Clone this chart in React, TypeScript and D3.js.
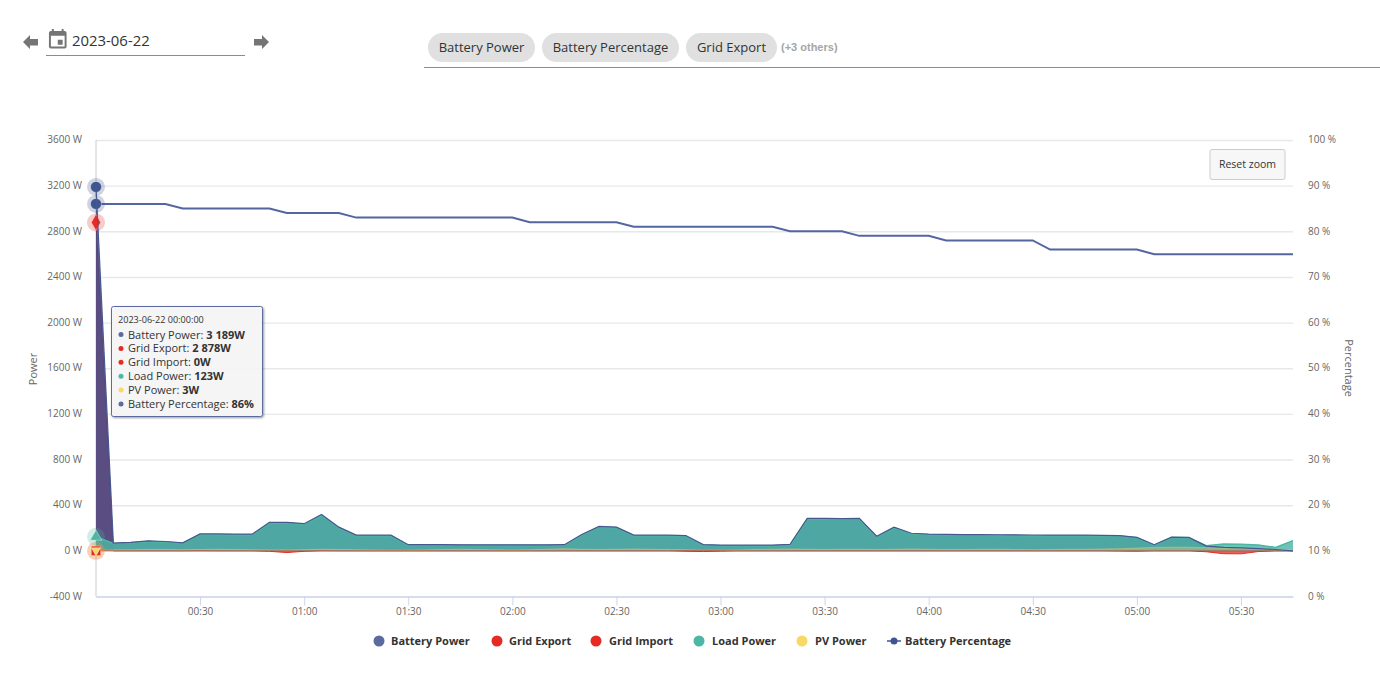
import React, { useRef, useEffect } from 'react';
import * as d3 from 'd3';

const day = '2023-06-22';
const timeTicks = ['00:30', '01:00', '01:30', '02:00', '02:30', '03:00', '03:30', '04:00', '04:30', '05:00', '05:30'];
const powerTicks = [-400, 0, 400, 800, 1200, 1600, 2000, 2400, 2800, 3200, 3600];
const percentTicks = [0, 10, 20, 30, 40, 50, 60, 70, 80, 90, 100];
const chips = ['Battery Power', 'Battery Percentage', 'Grid Export'];

// one sample every 5 minutes, 00:00 to 05:45
const batteryPower = [3189, 68, 74, 88, 82, 70, 148, 148, 146, 146, 250, 250, 238, 318, 208, 138, 138, 138, 54, 54, 54, 53, 53, 53, 53, 53, 53, 54, 144, 214, 208, 138, 138, 137, 134, 55, 51, 50, 50, 51, 56, 284, 284, 282, 284, 128, 208, 154, 146, 145, 143, 142, 141, 140, 139, 138, 138, 138, 136, 134, 118, 54, 120, 118, 42, 30, 26, 20, 12, 0];
const gridExport = [2878, 0, 0, 0, 0, 0, 0, 0, 0, 0, -4, -15, -4, 0, 0, 0, 0, 0, 0, 0, 0, 0, 0, 0, 0, 0, 0, 0, 0, 0, 0, 0, 0, 0, -4, -6, -3, 0, 0, 0, 0, 0, 0, 0, 0, 0, 0, 0, 0, 0, 0, 0, 0, 0, 0, 0, 0, 0, 0, -2, -3, 0, 0, 0, -8, -25, -26, -6, 0, 0];
const gridImport = [0, 0, 0, 0, 0, 0, 2, 0, 0, 0, 0, 0, 0, 2, 0, 0, 0, 0, 0, 0, 0, 0, 0, 0, 0, 0, 0, 0, 0, 0, 0, 0, 0, 0, 3, 4, 2, 0, 0, 0, 0, 0, 0, 0, 0, 0, 0, 0, 0, 0, 0, 0, 0, 0, 0, 0, 0, 0, 0, 0, 0, 0, 0, 0, 0, 0, 0, 0, 0, 0];
const loadPower = [123, 64, 70, 83, 78, 66, 143, 143, 141, 141, 243, 243, 232, 310, 202, 132, 132, 132, 48, 48, 48, 48, 47, 47, 47, 47, 47, 48, 138, 208, 202, 132, 132, 132, 129, 50, 45, 45, 45, 45, 50, 278, 278, 276, 278, 122, 202, 148, 140, 140, 138, 137, 135, 135, 133, 133, 133, 133, 132, 130, 114, 50, 116, 114, 45, 60, 58, 52, 30, 90];
const pvPower = [3, 8, 10, 12, 12, 10, 12, 14, 12, 10, 8, 8, 10, 14, 12, 10, 8, 6, 6, 8, 12, 14, 12, 10, 8, 10, 14, 18, 14, 12, 14, 16, 14, 12, 10, 6, 6, 8, 12, 14, 16, 14, 12, 14, 14, 12, 14, 16, 14, 12, 12, 14, 14, 12, 10, 12, 14, 14, 16, 18, 24, 30, 32, 32, 28, 24, 22, 18, 12, 8];
const batteryPercentage = [86, 86, 86, 86, 86, 85, 85, 85, 85, 85, 85, 84, 84, 84, 84, 83, 83, 83, 83, 83, 83, 83, 83, 83, 83, 82, 82, 82, 82, 82, 82, 81, 81, 81, 81, 81, 81, 81, 81, 81, 80, 80, 80, 80, 79, 79, 79, 79, 79, 78, 78, 78, 78, 78, 78, 76, 76, 76, 76, 76, 76, 75, 75, 75, 75, 75, 75, 75, 75, 75];

const BLUE = '#5b6b9f';
const RED = '#e52b23';
const TEAL = '#4db6a5';
const YELLOW = '#f8d966';

const legendItems = [
  { name: 'Battery Power', color: BLUE, dot: 379, text: 391 },
  { name: 'Grid Export', color: RED, dot: 497, text: 509 },
  { name: 'Grid Import', color: RED, dot: 596, text: 609 },
  { name: 'Load Power', color: TEAL, dot: 699, text: 712 },
  { name: 'PV Power', color: YELLOW, dot: 802, text: 815 },
];

const FONT = '"Open Sans", sans-serif';
const left = 96;
const right = 1293;
const top = 140;
const bottom = 596.5;

const parseTime = d3.timeParse('%Y-%m-%d %H:%M');
const start = parseTime(`${day} 00:00`) as Date;
const times = batteryPower.map((_, i) => d3.timeMinute.offset(start, i * 5));

const x = d3.scaleTime().domain([start, times[times.length - 1]]).range([left, right]);
const yPower = d3.scaleLinear().domain([-400, 3600]).range([bottom, top]);
const yPercent = d3.scaleLinear().domain([0, 100]).range([bottom, top]);

const areaOf = (values: number[]) =>
  d3.area<number>().x((_, i) => x(times[i])).y0(yPower(0)).y1(d => yPower(d))(values) as string;
const lineOf = (values: number[], y: d3.ScaleLinear<number, number> = yPower) =>
  d3.line<number>().x((_, i) => x(times[i])).y(d => y(d))(values) as string;

const fmt = (v: number) => d3.format(',')(v).replace(/,/g, ' ');
const tooltipRows = [
  { label: 'Battery Power', value: `${fmt(batteryPower[0])}W`, color: BLUE },
  { label: 'Grid Export', value: `${fmt(gridExport[0])}W`, color: RED },
  { label: 'Grid Import', value: `${fmt(gridImport[0])}W`, color: RED },
  { label: 'Load Power', value: `${fmt(loadPower[0])}W`, color: TEAL },
  { label: 'PV Power', value: `${fmt(pvPower[0])}W`, color: YELLOW },
  { label: 'Battery Percentage', value: `${batteryPercentage[0]}%`, color: BLUE },
];

const Marker: React.FC<{ cy: number; type: d3.SymbolType; size: number; color: string; halo: string; haloOpacity?: number; flip?: boolean }> = ({ cy, type, size, color, halo, haloOpacity = 0.25, flip }) => (
  <g transform={`translate(${left},${cy})`}>
    <circle r={9} fill={halo} fillOpacity={haloOpacity} />
    <path
      d={d3.symbol().type(type).size(size)() as string}
      fill={color}
      stroke="#fff"
      strokeOpacity={0.6}
      strokeWidth={0.6}
      transform={flip ? 'rotate(180)' : undefined}
    />
  </g>
);

const App: React.FC = () => {
  const xAxisRef = useRef<SVGGElement | null>(null);
  const leftAxisRef = useRef<SVGGElement | null>(null);
  const rightAxisRef = useRef<SVGGElement | null>(null);

  useEffect(() => {
    const xAxis: any = d3.axisBottom(x)
      .tickValues(timeTicks.map(t => parseTime(`${day} ${t}`) as Date))
      .tickFormat(d3.timeFormat('%H:%M') as any)
      .tickSize(9)
      .tickSizeOuter(0)
      .tickPadding(2);
    const xg = d3.select(xAxisRef.current).call(xAxis);
    xg.select('.domain').attr('stroke', '#ccd6eb').attr('stroke-width', 1.3);
    xg.selectAll('.tick line').attr('stroke', '#ccd6eb');
    xg.selectAll('.tick text').attr('fill', '#666').attr('font-size', 10).attr('font-family', FONT);

    const leftAxis: any = d3.axisLeft(yPower)
      .tickValues(powerTicks)
      .tickFormat((d: any) => `${d} W`)
      .tickSize(-(right - left))
      .tickPadding(14);
    const lg = d3.select(leftAxisRef.current).call(leftAxis);
    lg.select('.domain').remove();
    lg.selectAll('.tick line').attr('stroke', '#e6e8ec').attr('stroke-width', 1.4);
    lg.selectAll('.tick text').attr('fill', '#666').attr('font-size', 10).attr('font-family', FONT).attr('dy', '0.27em');

    const rightAxis: any = d3.axisRight(yPercent)
      .tickValues(percentTicks)
      .tickFormat((d: any) => `${d} %`)
      .tickSize(0)
      .tickPadding(15);
    const rg = d3.select(rightAxisRef.current).call(rightAxis);
    rg.select('.domain').remove();
    rg.selectAll('.tick text').attr('fill', '#666').attr('font-size', 10).attr('font-family', FONT).attr('dy', '0.27em');
  }, []);

  return (
    <svg width={1380} height={691} style={{ position: 'absolute', left: 0, top: 0, background: '#fff' }} fontFamily={FONT}>
      <defs>
        <filter id="tipShadow" x="-10%" y="-10%" width="120%" height="120%">
          <feDropShadow dx="1" dy="1" stdDeviation="1.3" floodColor="#000" floodOpacity="0.4" />
        </filter>
      </defs>

      {/* date picker */}
      <path d="M23 42 L30 35 L30 39 L38 39 L38 45.500 L30 45.500 L30 49 Z" fill="#757575" />
      <path
        transform="translate(46,28) scale(0.98)"
        d="M17 12h-5v5h5v-5zM16 1v2H8V1H6v2H5c-1.11 0-1.99.9-1.99 2L3 19c0 1.1.89 2 2 2h14c1.1 0 2-.9 2-2V5c0-1.1-.9-2-2-2h-1V1h-2zm3 18H5V8h14v11z"
        fill="#757575"
      />
      <text x={72} y={46} fontSize={14.900} fill="#333">{day}</text>
      <line x1={46} x2={245} y1={55.500} y2={55.500} stroke="#8c8c8c" />
      <path d="M269 42 L262 35 L262 39 L254 39 L254 45.500 L262 45.500 L262 49 Z" fill="#757575" />

      {/* series filter */}
      {chips.map((c, i) => {
        const bx = [428, 542, 686][i];
        const bw = [107, 137, 91][i];
        return (
          <g key={c}>
            <rect x={bx} y={33} width={bw} height={29} rx={14.500} fill="#e0e0e0" />
            <text x={bx + bw / 2} y={52} textAnchor="middle" fontSize={13} fill="#333">{c}</text>
          </g>
        );
      })}
      <text x={781} y={51} fontSize={11} fontWeight="bold" fontFamily='"Liberation Sans", sans-serif' fill="#a6a6a6">(+3 others)</text>
      <line x1={424} x2={1380} y1={67.500} y2={67.500} stroke="#8c8c8c" />

      {/* axes */}
      <g ref={leftAxisRef} transform={`translate(${left},0)`} />
      <g ref={rightAxisRef} transform={`translate(${right},0)`} />
      <g ref={xAxisRef} transform={`translate(0,${bottom})`} />
      <line x1={left} x2={left} y1={top} y2={bottom} stroke="#cccccc" />
      <text transform="translate(37,369) rotate(-90)" textAnchor="middle" fontSize={11} fill="#666">Power</text>
      <text transform="translate(1345,368) rotate(90)" textAnchor="middle" fontSize={11} fill="#666">Percentage</text>

      {/* areas */}
      <path d={lineOf(gridExport)} fill="none" stroke={RED} strokeWidth={1} />
      <path d={areaOf(gridExport)} fill={RED} fillOpacity={0.75} />
      <path d={areaOf(gridImport)} fill={RED} fillOpacity={0.75} />
      <path d={areaOf(batteryPower)} fill="#3f4a8a" fillOpacity={0.85} />
      <path d={areaOf(loadPower)} fill={TEAL} fillOpacity={0.82} />
      <path d={areaOf(pvPower)} fill={YELLOW} fillOpacity={0.3} />

      <path d={lineOf(loadPower)} fill="none" stroke={TEAL} strokeWidth={1.500} />
      <path d={lineOf(pvPower)} fill="none" stroke={YELLOW} strokeOpacity={0.4} strokeWidth={1} />
      <path d={lineOf(gridImport)} fill="none" stroke={RED} strokeOpacity={0.55} strokeWidth={1} />
      <path d={lineOf(batteryPercentage, yPercent)} fill="none" stroke="#53669f" strokeWidth={2} />

      {/* hovered point markers */}
      <Marker cy={yPower(gridImport[0])} type={d3.symbolSquare} size={90} color={RED} halo="#f08a3c" haloOpacity={0.4} />
      <Marker cy={yPower(pvPower[0])} type={d3.symbolTriangle} size={38} color={YELLOW} halo="#f8d966" haloOpacity={0} flip />
      <Marker cy={yPower(loadPower[0])} type={d3.symbolTriangle} size={60} color={TEAL} halo={TEAL} />
      <Marker cy={yPower(gridExport[0])} type={d3.symbolDiamond} size={75} color={RED} halo={RED} />
      <Marker cy={yPercent(batteryPercentage[0])} type={d3.symbolCircle} size={95} color="#3f5590" halo="#3f5590" />
      <Marker cy={yPower(batteryPower[0])} type={d3.symbolCircle} size={95} color="#3f5590" halo="#3f5590" />

      {/* battery line runs over the markers */}
      <path d={lineOf(batteryPower)} fill="none" stroke="#46598f" strokeWidth={1.200} />

      {/* reset button */}
      <rect x={1210} y={149.500} width={75} height={30} rx={2} fill="#f7f7f7" stroke="#cccccc" />
      <text x={1247.500} y={168} textAnchor="middle" fontSize={10.500} fill="#333">Reset zoom</text>

      {/* legend */}
      {legendItems.map(d => (
        <g key={d.name}>
          <circle cx={d.dot} cy={641} r={5.500} fill={d.color} />
          <text x={d.text} y={645} fontSize={11} fontWeight="bold" fill="#333">{d.name}</text>
        </g>
      ))}
      <line x1={887} x2={901} y1={641} y2={641} stroke="#3f5590" strokeWidth={1.500} />
      <circle cx={894} cy={641} r={3.500} fill="#3f5590" />
      <text x={905} y={645} fontSize={11} fontWeight="bold" fill="#333">Battery Percentage</text>

      {/* tooltip */}
      <rect x={111.500} y={306.500} width={151} height={110} rx={2} fill="#f7f7f7" fillOpacity={0.95} stroke={BLUE} filter="url(#tipShadow)" />
      <text x={118} y={323} fontSize={9.100} fill="#333">{day} 00:00:00</text>
      {tooltipRows.map((r, i) => (
        <g key={r.label}>
          <circle cx={121} cy={334.500 + i * 13.900} r={2.500} fill={r.color} />
          <text x={128} y={338.500 + i * 13.900} fontSize={11} fill="#333">
            {r.label}: <tspan fontWeight="bold">{r.value}</tspan>
          </text>
        </g>
      ))}
    </svg>
  );
};

export default App;
